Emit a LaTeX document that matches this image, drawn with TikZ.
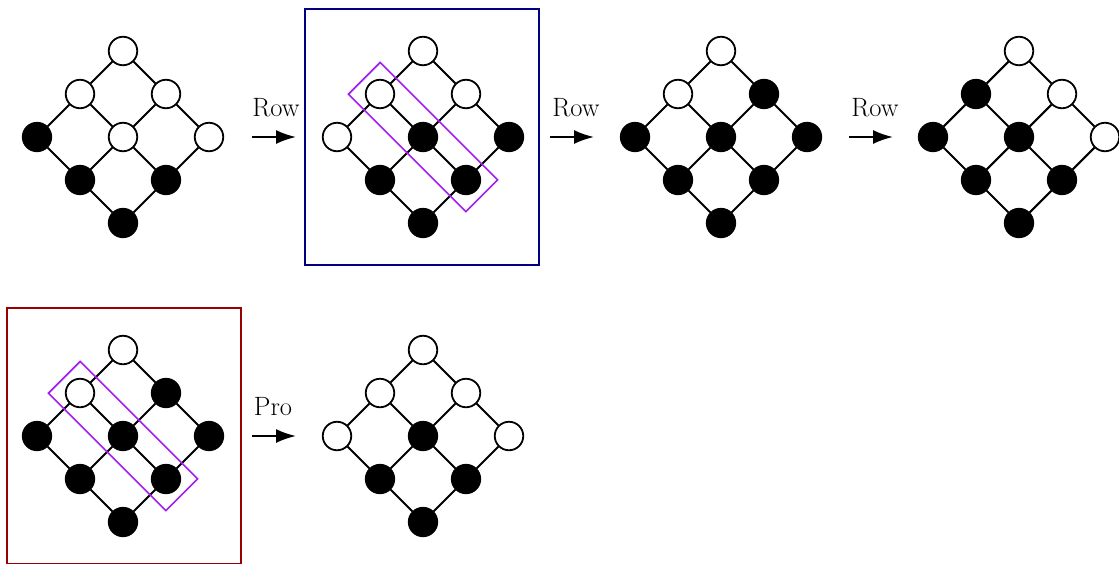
\documentclass[tikz,border=0pt]{standalone}
\usetikzlibrary{arrows.meta}
\definecolor{framenavy}{RGB}{0,0,128}
\definecolor{framered}{RGB}{155,0,0}
\definecolor{selpurple}{RGB}{160,32,240}
\tikzset{
  dot/.style={circle, draw=black, line width=1.8pt, minimum size=28.5pt, inner sep=0pt},
  edge/.style={line width=2.1pt},
  selbox/.style={draw=selpurple, line width=1.6pt, rotate=-45, minimum width=166pt, minimum height=45pt, inner sep=0pt},
  framebox/.style={line width=1.8pt, minimum width=234pt, minimum height=256pt, inner sep=0pt},
  movearrow/.style={line width=2pt, -{Latex[length=20pt,width=14pt]}},
  movelabel/.style={anchor=base, inner sep=0pt, font=\fontsize{26.5}{30}\selectfont}
}
\newcommand\posetgrid[4]{%
  \foreach \f [count=\k from 0] in {#4} {
    \pgfmathtruncatemacro\ii{int(\k/3)}
    \pgfmathtruncatemacro\jj{mod(\k,3)}
    \node[dot, fill=\f] (#1-\ii\jj) at ({#2+43*(\jj-\ii)},{#3-86+43*(\ii+\jj)}) {};
  }
  \foreach \a/\b in {00/10,00/01,10/20,10/11,01/11,01/02,20/21,11/21,11/12,02/12,21/22,12/22}
    \draw[edge] (#1-\a) -- (#1-\b);
}
\begin{document}
\begin{tikzpicture}[x=1pt,y=-1pt]
\useasboundingbox (0,0) rectangle (1119,563);
% frames
\node[framebox, draw=framenavy] (frameA) at (422,137) {};
\node[framebox, draw=framered] (frameB) at (124,436) {};
% lattices
\posetgrid{d1}{123}{137}{white,white,white,white,white,black,black,black,black}
\posetgrid{d2}{423}{137}{white,white,black,white,black,black,white,black,black}
\posetgrid{d3}{721}{137}{white,black,black,white,black,black,black,black,black}
\posetgrid{d4}{1019}{137}{white,white,white,black,black,black,black,black,black}
\posetgrid{d5}{123}{436}{white,black,black,white,black,black,black,black,black}
\posetgrid{d6}{423}{436}{white,white,white,white,black,black,white,black,black}
% selections
\node[selbox] (selA) at (d2-11) {};
\node[selbox] (selB) at (d5-11) {};
% arrows
\coordinate (a1s) at (252,137); \coordinate (a1e) at (296,137);
\coordinate (a2s) at (550,137); \coordinate (a2e) at (594,137);
\coordinate (a3s) at (849,137); \coordinate (a3e) at (893,137);
\coordinate (a4s) at (252,436); \coordinate (a4e) at (296,436);
\draw[movearrow] (a1s) -- (a1e);
\draw[movearrow] (a2s) -- (a2e);
\draw[movearrow] (a3s) -- (a3e);
\draw[movearrow] (a4s) -- (a4e);
\node[movelabel] (l1) at (276,116) {Row};
\node[movelabel] (l2) at (576,116) {Row};
\node[movelabel] (l3) at (875,116) {Row};
\node[movelabel] (l4) at (273,415) {Pro};
\end{tikzpicture}
\end{document}
